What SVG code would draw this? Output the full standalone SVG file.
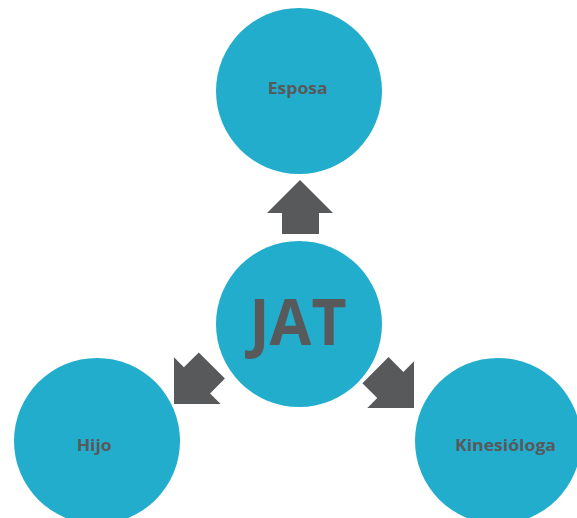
<svg xmlns="http://www.w3.org/2000/svg" width="577" height="518" viewBox="0 0 577 518">
<style>
.node{fill:#22ADCD}
.arrow{fill:#58595B}
.lbl{font-family:"Open Sans","Liberation Sans",sans-serif;font-weight:bold;fill:#58595B;text-anchor:middle}
</style>
<defs>
<path id="arr" d="M0,0 L33,33 L19,33 L19,54 L-18,54 L-18,33 L-33,33 Z"/>
</defs>
<rect width="577" height="518" fill="#fff"/>
<g id="connectors">
<use href="#arr" class="arrow" transform="translate(300,180)"/>
<use href="#arr" class="arrow" transform="translate(174,404) rotate(225)"/>
<use href="#arr" class="arrow" transform="translate(414,408) rotate(135)"/>
</g>
<g id="esposa">
<circle class="node" cx="299" cy="91" r="83"/>
<text class="lbl" x="297.7" y="94" font-size="16" textLength="60" lengthAdjust="spacingAndGlyphs">Esposa</text>
</g>
<g id="jat">
<circle class="node" cx="299" cy="324" r="83"/>
<text class="lbl" x="298" y="345" font-size="64" textLength="97" lengthAdjust="spacingAndGlyphs">JAT</text>
</g>
<g id="hijo">
<circle class="node" cx="97" cy="441" r="83"/>
<text class="lbl" x="94.2" y="451" font-size="16.5" textLength="35" lengthAdjust="spacingAndGlyphs">Hijo</text>
</g>
<g id="kinesiologa">
<circle class="node" cx="498" cy="441" r="83"/>
<text class="lbl" x="505.5" y="450.5" font-size="16.5" textLength="101" lengthAdjust="spacingAndGlyphs">Kinesióloga</text>
</g>
</svg>
